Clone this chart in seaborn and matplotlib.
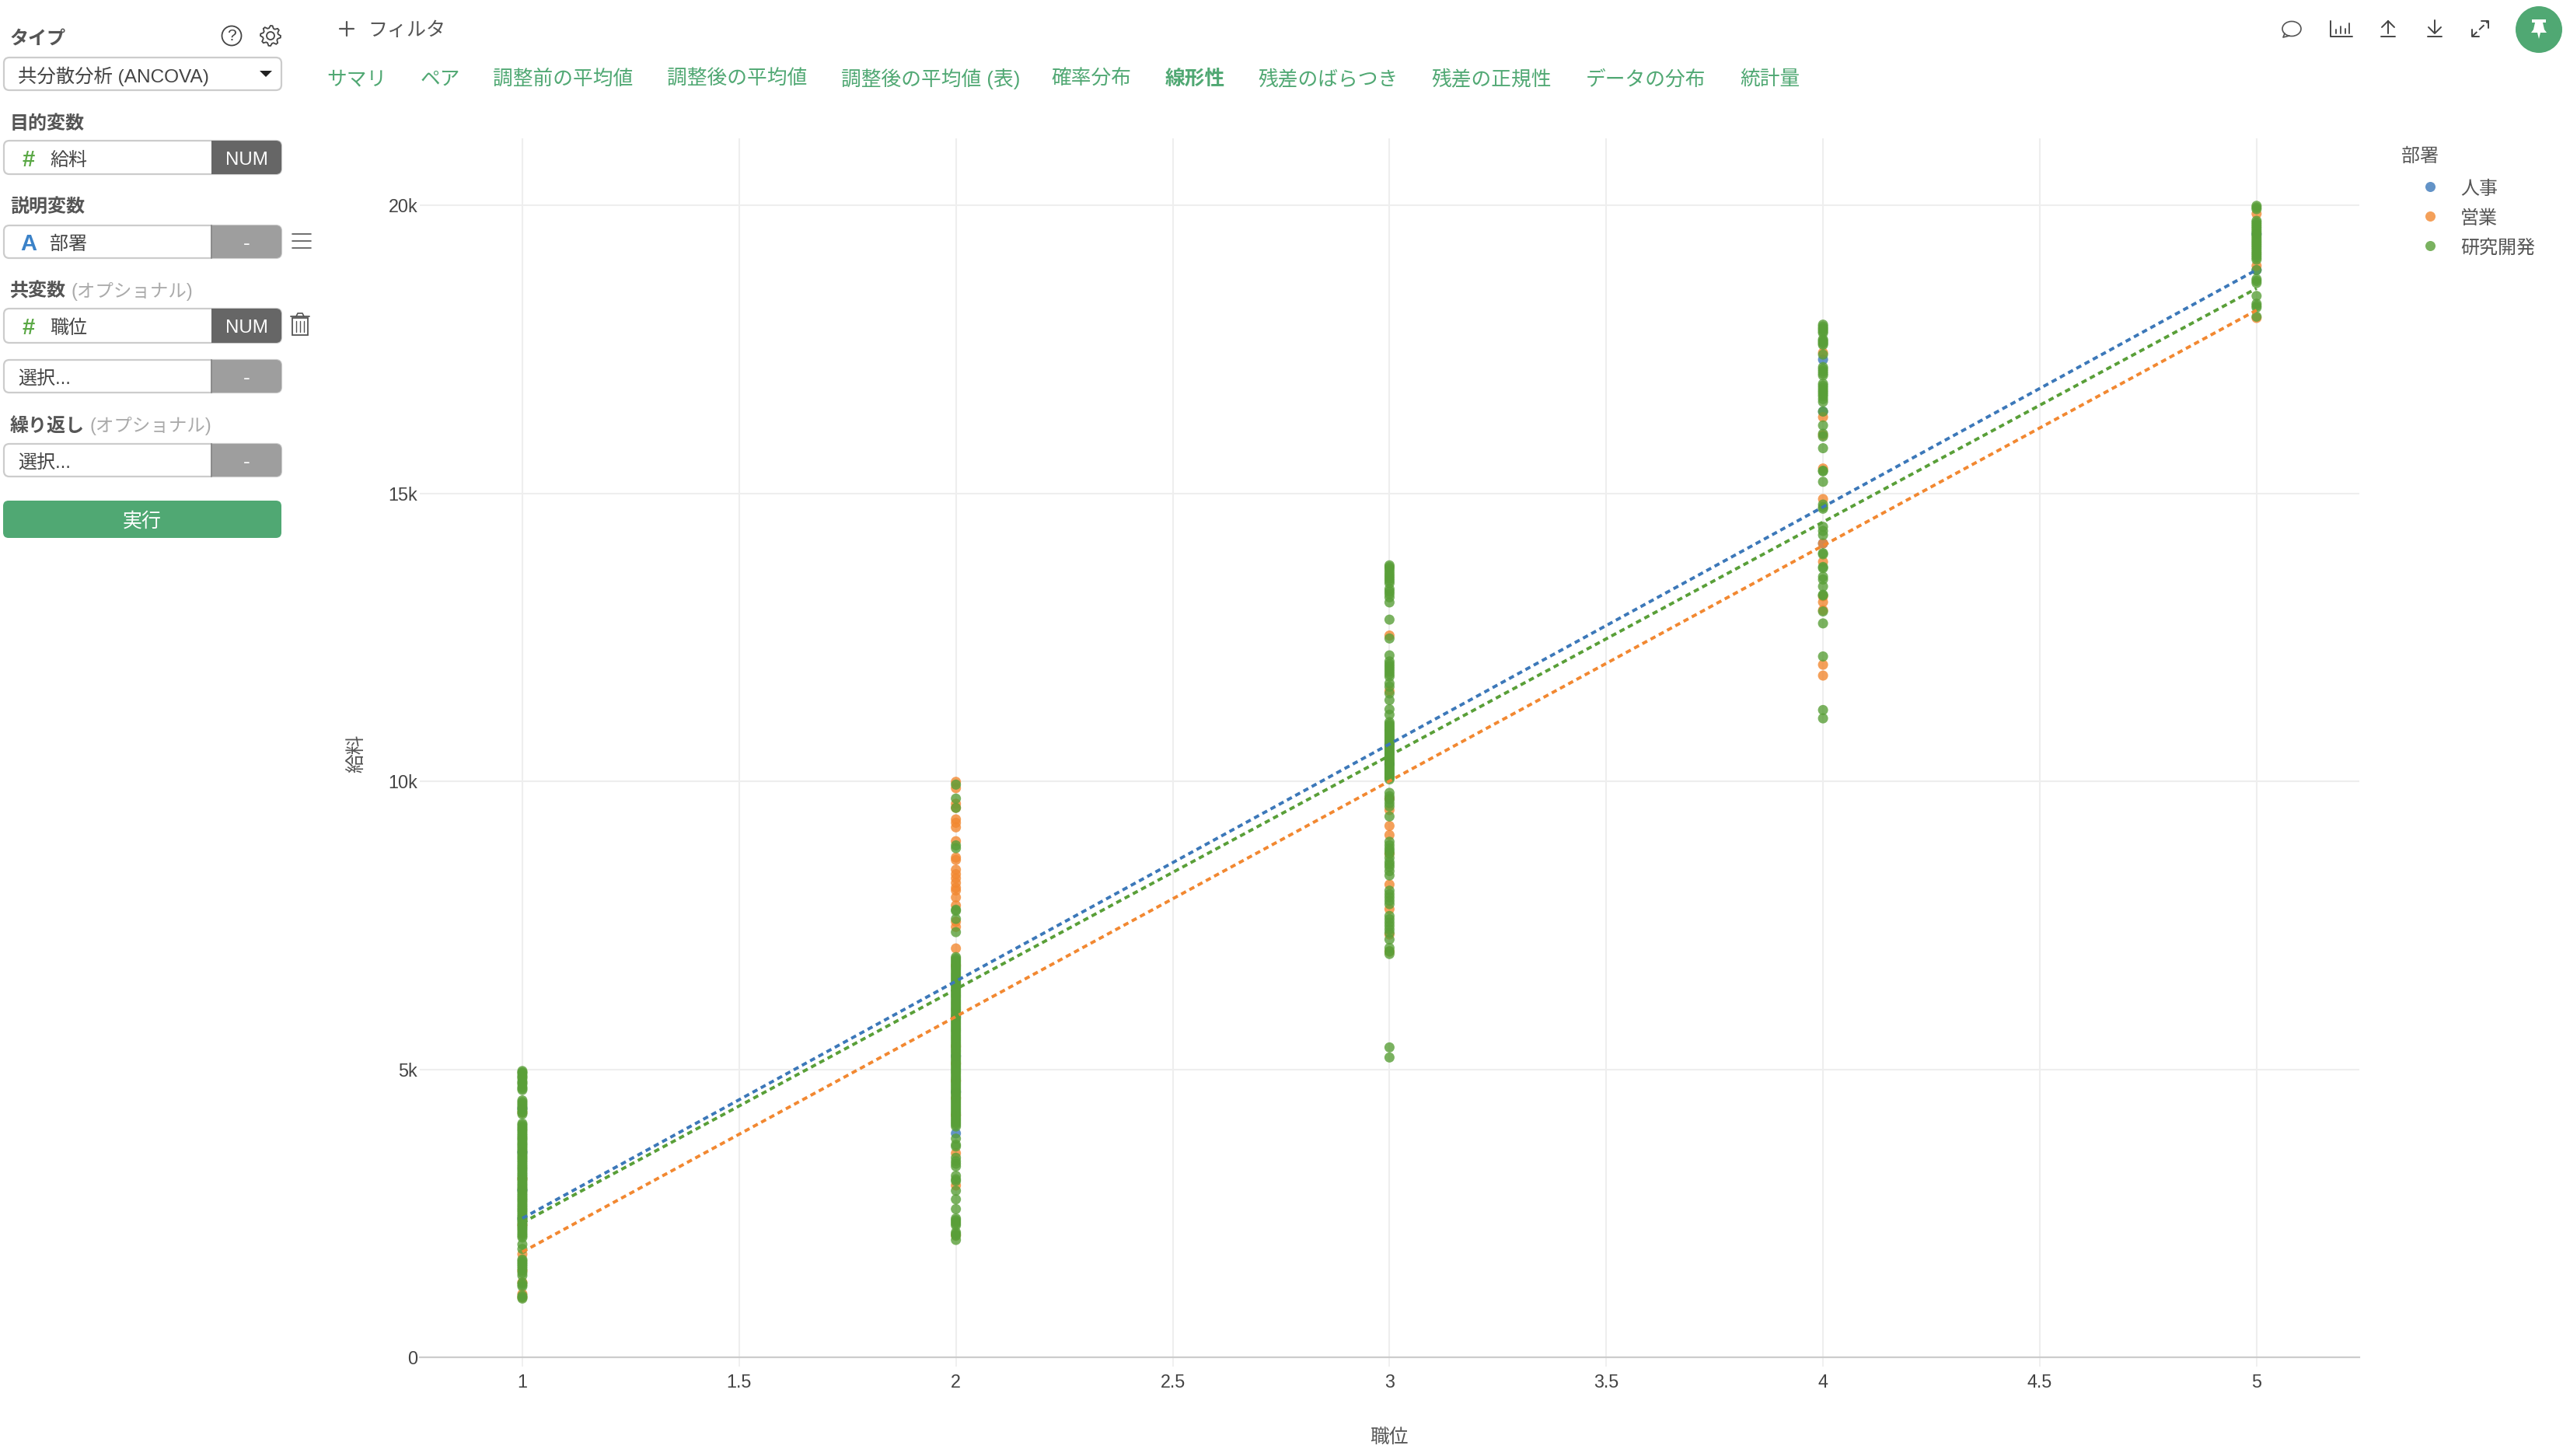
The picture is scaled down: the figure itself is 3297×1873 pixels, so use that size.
import numpy as np
import pandas as pd
import matplotlib
matplotlib.use("Agg")
import matplotlib.pyplot as plt
from matplotlib.patches import FancyBboxPatch, Rectangle, Circle, Ellipse, Polygon
from matplotlib.transforms import ScaledTranslation
import seaborn as sns

# ---------- data ----------
departments = ["人事", "営業", "研究開発"]
levels = [1, 2, 3, 4, 5]

hr_lv1 = [4320, 3560, 2900, 2410]
hr_lv2 = [6480, 5900, 5230, 4610, 3887]
hr_lv3 = [10640, 10300, 9700]
hr_lv4 = [17320, 16419, 14129]
hr_lv5 = [19500, 18875]

sales_lv1 = [4250, 3100, 2300, 1790, 1500, 1300, 1100, 1040]
sales_lv2 = [9990, 9881, 9610, 9540, 9339, 9279, 9200, 8960, 8676, 8634, 8465, 8387,
             8315, 8236, 8152, 8104, 7984, 7845, 7562, 7471, 7098, 6800, 5400, 5100,
             4800, 4500, 4200, 3543, 2983, 2120]
sales_lv3 = [12530, 11566, 9700, 9500, 9225, 9067, 8740, 8207, 7780, 7340, 7040]
sales_lv4 = [17440, 16322, 16010, 15430, 14900, 14129, 13810, 13210, 13110, 12970, 12023, 11835]
sales_lv5 = [19851, 18950, 18043]

rd_lv1 = [4970, 4945, 4930, 4890, 4865, 4840, 4790, 4765, 4740, 4690, 4665, 4640,
          4460, 4430, 4400, 4370, 4340, 4310, 4280, 4250, 4220,
          4058, 4030, 4000, 3970, 3945, 3915, 3880, 3850, 3820, 3795, 3770, 3735, 3705,
          3680, 3650, 3620, 3590, 3560, 3530, 3500, 3470, 3445, 3415, 3385, 3350, 3320,
          3290, 3265, 3235, 3200, 3170, 3140, 3110, 3085, 3055, 3020, 2990, 2960, 2930,
          2905, 2875, 2840, 2810, 2780, 2750, 2725, 2695, 2660, 2630, 2600, 2570, 2545,
          2515, 2480, 2450, 2420, 2390, 2365, 2335, 2300, 2270, 2240, 2210, 2175, 2140,
          2110, 2080, 1960, 1880, 1697, 1670, 1640, 1610, 1580, 1545, 1510, 1465, 1418,
          1290, 1260, 1230, 1070, 1045, 1020]
rd_lv2 = [9942, 9700, 9538, 8887, 8839, 7770, 7750, 7610, 7381,
          6947, 6920, 6890, 6860, 6830, 6800, 6770, 6745, 6715, 6680, 6650, 6620, 6590,
          6560, 6530, 6500, 6470, 6440, 6410, 6380, 6350, 6320, 6290, 6265, 6235, 6200,
          6170, 6140, 6110, 6080, 6050, 6025, 5995, 5960, 5930, 5900, 5870, 5840, 5810,
          5780, 5750, 5720, 5690, 5665, 5635, 5600, 5570, 5540, 5510, 5480, 5450, 5420,
          5390, 5360, 5330, 5305, 5275, 5240, 5210, 5180, 5150, 5120, 5090, 5060, 5030,
          5000, 4970, 4945, 4915, 4880, 4850, 4820, 4790, 4760, 4730, 4700, 4670, 4640,
          4610, 4585, 4555, 4520, 4490, 4460, 4430, 4400, 4370, 4340, 4310, 4280, 4250,
          4225, 4195, 4160, 4130, 4100, 4070, 4040, 4007,
          3796, 3690, 3660, 3465, 3405, 3360, 3314, 3151, 3090, 3060, 2892, 2742, 2573,
          2410, 2380, 2350, 2320, 2290, 2169, 2140, 2109, 2037]
rd_lv3 = [13749, 13720, 13690, 13645, 13600, 13560, 13520, 13480, 13438, 13339, 13295, 13251,
          13193, 13105, 12806, 12479, 12186, 12081, 12035, 11993, 11950, 11905, 11860, 11817,
          11700, 11642, 11525, 11408, 11250, 11156, 11027, 10995, 10965, 10935, 10905,
          10880, 10850, 10820, 10790, 10760, 10730, 10700, 10670, 10640, 10610, 10580,
          10550, 10520, 10490, 10465, 10435, 10405, 10375, 10350, 10320, 10290, 10260,
          10230, 10200, 10170, 10140, 10115, 10085, 10060, 10032,
          9799, 9740, 9681, 9620, 9564, 9389, 8950, 8890, 8833, 8790, 8745, 8670, 8599,
          8555, 8511, 8440, 8365, 8101, 8040, 7984, 7925, 7867, 7662, 7605, 7546, 7490,
          7429, 7370, 7253, 7107, 7050, 7001, 5380, 5205]
rd_lv4 = [17927, 17895, 17865, 17841, 17810, 17783, 17672, 17648, 17624, 17600, 17576, 17407,
          17190, 17155, 17118, 17080, 17045, 16901, 16865, 16828, 16790, 16756, 16720, 16684,
          16635, 16587, 16419, 16178, 16033, 15985, 15782, 15392, 15380, 15199, 14804, 14760,
          14732, 14418, 14346, 14274, 13960, 13940, 13720, 13700, 13551, 13503, 13382, 13238,
          13225, 12948, 12741, 12167, 11237, 11092]
rd_lv5 = [19990, 19960, 19932, 19730, 19698, 19665, 19632, 19600, 19565, 19530, 19498, 19465,
          19430, 19395, 19362, 19330, 19298, 19265, 19228, 19190, 19158, 19125, 19090, 19055,
          18875, 18718, 18685, 18650, 18425, 18290, 18255, 18223, 18066]

# fitted lines, values at 職位 = 1 and 5
line_levels = [1, 5]
hr_fit = [2413, 18878]
sales_fit = [1828, 18178]
rd_fit = [2335, 18556]

x_ticks = [1, 1.5, 2, 2.5, 3, 3.5, 4, 4.5, 5]
x_ticklabels = ["1", "1.5", "2", "2.5", "3", "3.5", "4", "4.5", "5"]
y_ticks = [0, 5000, 10000, 15000, 20000]
y_ticklabels = ["0", "5k", "10k", "15k", "20k"]

palette = {"人事": "#3c78b9", "営業": "#f28831", "研究開発": "#599f38"}

tab_labels = ["サマリ", "ペア", "調整前の平均値", "調整後の平均値", "調整後の平均値 (表)", "確率分布",
              "線形性", "残差のばらつき", "残差の正規性", "データの分布", "統計量"]
tab_x = [420, 541, 634, 858, 1082, 1352, 1499, 1618, 1841, 2040, 2238]

# ---------- frames ----------
groups = {"人事": [hr_lv1, hr_lv2, hr_lv3, hr_lv4, hr_lv5],
          "営業": [sales_lv1, sales_lv2, sales_lv3, sales_lv4, sales_lv5],
          "研究開発": [rd_lv1, rd_lv2, rd_lv3, rd_lv4, rd_lv5]}
rows = []
for dept in departments:
    for lv, vals in zip(levels, groups[dept]):
        rows += [(lv, v, dept) for v in vals]
points = pd.DataFrame(rows, columns=["職位", "給料", "部署"])
lines = pd.concat([pd.DataFrame({"職位": line_levels, "給料": f, "部署": d})
                   for d, f in zip(departments, [hr_fit, sales_fit, rd_fit])])

# ---------- figure ----------
sns.set_theme(style="whitegrid")
FONT = ["Liberation Sans", "Noto Sans CJK JP", "DejaVu Sans"]
plt.rcParams["font.family"] = FONT

W, H = 3298, 1874
fig = plt.figure(figsize=(W / 100, H / 100), dpi=100, facecolor="white")

ui = fig.add_axes([0, 0, 1, 1], zorder=0)
ui.set_xlim(0, W)
ui.set_ylim(H, 0)
ui.axis("off")

L, R, T, B = 540, 3035, 179, 1747
ax = fig.add_axes([L / W, (H - B) / H, (R - L) / W, (B - T) / H], zorder=1)
ax.patch.set_alpha(0)

sns.scatterplot(data=points, x="職位", y="給料", hue="部署", hue_order=departments,
                palette=palette, s=88, linewidth=0, alpha=0.8, ax=ax, zorder=3)
sns.lineplot(data=lines, x="職位", y="給料", hue="部署", hue_order=departments,
             palette=palette, lw=2.8, legend=False, errorbar=None, ax=ax, zorder=4,
             linestyle=(0, (1.8, 1.3)), dash_capstyle="butt")

ax.set_xlim(0.7634, 5.2370)
ax.set_ylim(0, 21161)
ax.set_xticks(x_ticks, x_ticklabels)
ax.set_yticks(y_ticks, y_ticklabels)
ax.grid(True, color="#eeeeee", lw=1.5)
ax.tick_params(axis="x", bottom=True, length=8.6, width=1.2, color="#eeeeee",
               labelsize=16.8, labelcolor="#444444", pad=5.5)
ax.tick_params(axis="y", left=False, length=0, labelsize=16.8, labelcolor="#444444", pad=2)
for t in ax.get_yticklabels():
    t.set_transform(t.get_transform() + ScaledTranslation(0, 1 / 100, fig.dpi_scale_trans))
sns.despine(ax=ax, left=True, top=True, right=True)
ax.spines["bottom"].set_color("#cccccc")
ax.spines["bottom"].set_linewidth(1.6)
ax.set_xlabel("")
ax.set_ylabel("")

handles, labels = ax.get_legend_handles_labels()
leg = ax.legend(handles, labels, title="部署", loc="upper left", frameon=False,
                bbox_to_anchor=(3089, 191), bbox_transform=ui.transData,
                fontsize=17.3, title_fontsize=17.3, borderpad=0, borderaxespad=0,
                handlelength=3.07, handletextpad=0.09, labelspacing=0.64, markerscale=1.0)
leg._legend_box.align = "left"
leg._legend_box.sep = 14
leg.get_title().set_color("#555555")
for t in leg.get_texts():
    t.set_color("#555555")

# ---------- chrome ----------
TXT = "#555555"
GREEN = "#50a873"


def label(x, y, s, size=17.3, color=TXT, ha="left", weight="normal", rot=0):
    ui.text(x, y + 4, s, fontsize=size, color=color, ha=ha, va="center", fontweight=weight, rotation=rot)


label(458, 965, "給料", ha="center", rot=90, size=17.8)
label(1787, 1845, "職位", ha="center", size=17.8)


def field(y0, y1, text, tag=None, dark=False, glyph=None, gcolor=None):
    ui.add_patch(FancyBboxPatch((5, y0), 357, y1 - y0, boxstyle="round,pad=0,rounding_size=7",
                                fc="white", ec="#cccccc", lw=1.6))
    ui.add_patch(FancyBboxPatch((272, y0), 90, y1 - y0, boxstyle="round,pad=0,rounding_size=7",
                                fc="#666666" if dark else "#9e9e9e", ec="none"))
    ui.add_patch(Rectangle((272, y0), 12, y1 - y0, fc="#666666" if dark else "#9e9e9e", ec="none"))
    if not dark:
        ui.plot([272, 272], [y0, y1], color="#8a8a8a", lw=1.4)
    ui.text(317, (y0 + y1) / 2 + 2, tag, color="white", fontsize=17.3 if dark else 19, ha="center", va="center")
    if glyph:
        ui.text(37, (y0 + y1) / 2 + 2, glyph, color=gcolor, fontsize=21, fontweight="bold", ha="center", va="center")
        label(64, (y0 + y1) / 2 - 1, text, color="#444444")
    else:
        label(23, (y0 + y1) / 2 - 1, text, color="#444444")


label(13, 46, "タイプ", weight="bold")
ui.add_patch(Circle((298, 47), 12.5, fc="none", ec="#444444", lw=1.3))
ui.text(298, 47, "?", fontsize=15, color="#444444", ha="center", va="center")
theta = np.linspace(0, 2 * np.pi, 33)[:-1]
gear_r = np.array([13, 13, 10, 10] * 8)
ui.add_patch(Polygon(np.c_[348 + gear_r * np.cos(theta), 47 + gear_r * np.sin(theta)],
                     closed=True, fc="none", ec="#444444", lw=1.3))
ui.add_patch(Circle((348, 47), 5, fc="none", ec="#444444", lw=1.3))

ui.add_patch(FancyBboxPatch((5, 75), 357, 42, boxstyle="round,pad=0,rounding_size=7",
                            fc="white", ec="#cccccc", lw=1.6))
label(23, 94, "共分散分析 (ANCOVA)", color="#444444", size=17.6)
ui.add_patch(Polygon([(334, 92), (350, 92), (342, 100)], closed=True, fc="#222222", ec="none"))

label(13, 155, "目的変数", weight="bold")
field(182, 225, "給料", "NUM", True, "#", "#5aa845")
label(13, 263, "説明変数", weight="bold")
field(291, 333, "部署", "-", False, "A", "#3b82c8")
for yy in (302, 311, 320):
    ui.plot([376, 400], [yy, yy], color="#555555", lw=1.2)
label(13, 371, "共変数", weight="bold")
label(92, 371, "(オプショナル)", color="#aaaaaa", size=16.9)
field(398, 442, "職位", "NUM", True, "#", "#5aa845")
ui.add_patch(Rectangle((376, 410), 20, 22, fc="none", ec="#555555", lw=1.3))
ui.plot([374, 398], [408, 408], color="#555555", lw=1.3)
ui.plot([381, 383, 389, 391], [408, 404, 404, 408], color="#555555", lw=1.2)
for xx in (381, 386, 391):
    ui.plot([xx, xx], [414, 428], color="#555555", lw=1.0)
field(464, 506, "選択...", "-")
label(13, 544, "繰り返し", weight="bold")
label(116, 544, "(オプショナル)", color="#aaaaaa", size=16.9)
field(572, 614, "選択...", "-")
ui.add_patch(FancyBboxPatch((4, 645), 358, 48, boxstyle="round,pad=0,rounding_size=7",
                            fc=GREEN, ec="none"))
label(183, 667, "実行", color="white", ha="center", size=18)

ui.plot([437, 455], [38, 38], color=TXT, lw=1.6)
ui.plot([446, 446], [29, 47], color=TXT, lw=1.6)
label(473, 35, "フィルタ", size=18)

for x, s in zip(tab_x, tab_labels):
    label(x, 98, s, size=18.5, color=GREEN, weight="bold" if s == "線形性" else "normal")

IC = "#444444"
ui.add_patch(Ellipse((2948, 38), 24, 19, fc="none", ec=TXT, lw=1.2))
ui.plot([2939, 2937, 2945], [44, 49, 47], color=TXT, lw=1.2)
ui.plot([2998, 2998, 3026], [28, 48, 48], color=IC, lw=1.4)
for xx, top in zip((3005, 3011, 3017, 3022), (39, 35, 38, 31)):
    ui.plot([xx, xx], [top, 44], color=IC, lw=1.3)
ui.plot([3072, 3072], [28, 44], color=IC, lw=1.4)
ui.plot([3064, 3072, 3080], [36, 28, 36], color=IC, lw=1.4)
ui.plot([3063, 3081], [48, 48], color=IC, lw=1.4)
ui.plot([3132, 3132], [27, 43], color=IC, lw=1.4)
ui.plot([3124, 3132, 3140], [36, 44, 36], color=IC, lw=1.4)
ui.plot([3123, 3141], [48, 48], color=IC, lw=1.4)
ui.plot([3180, 3201], [48, 28], color=IC, lw=1.4, ls=(0, (4.5, 2)))
ui.plot([3192, 3201, 3201], [28, 28, 37], color=IC, lw=1.4)
ui.plot([3180, 3180, 3189], [39, 48, 48], color=IC, lw=1.4)
ui.add_patch(Circle((3266, 39), 30, fc=GREEN, ec="none"))
ui.add_patch(Polygon([(3257, 26), (3275, 26), (3275, 30), (3271, 30), (3273, 39), (3276, 43),
                      (3268, 43), (3266, 51), (3264, 43), (3256, 43), (3259, 39), (3261, 30), (3257, 30)],
                     closed=True, fc="white", ec="none"))

fig.savefig("out.png", dpi=100)
